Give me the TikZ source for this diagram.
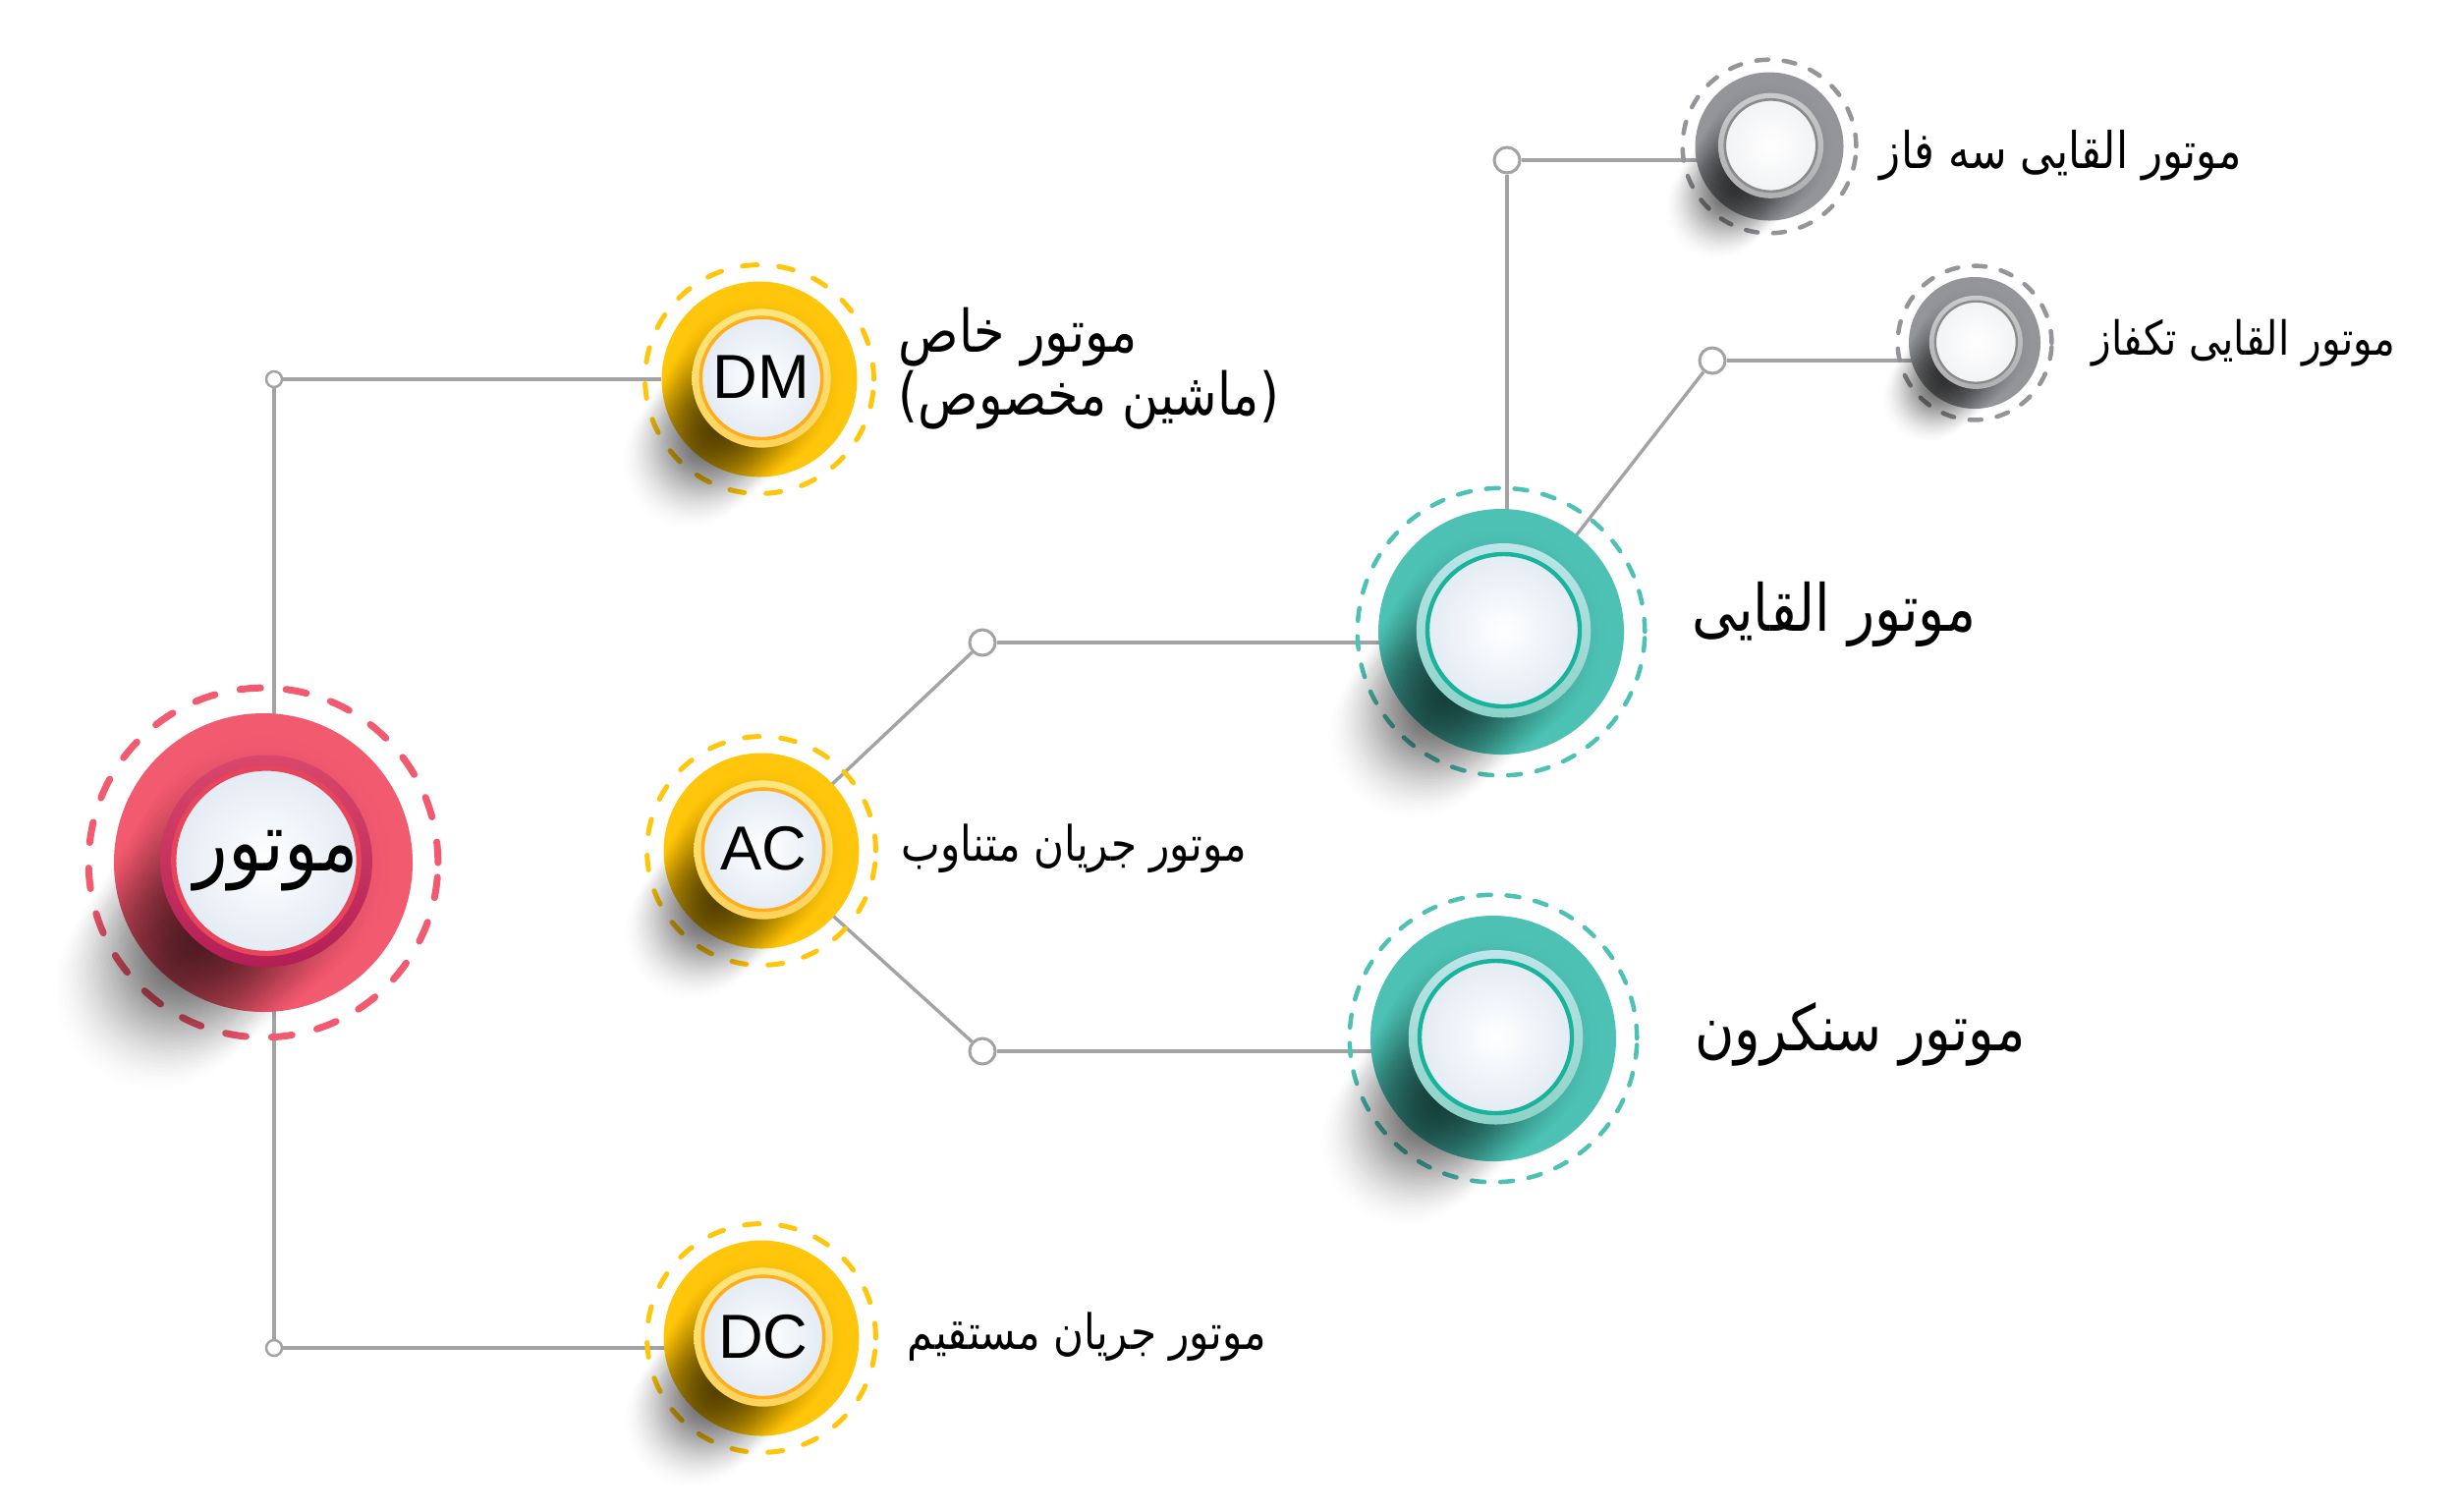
\documentclass[tikz,border=0pt]{standalone}
\usepackage{fontspec}
\setmainfont{Liberation Sans}
\newfontfamily\arabicfont[Script=Arabic,FakeStretch=0.85]{DejaVu Sans}
\TeXXeTstate=1
\usetikzlibrary{positioning, backgrounds, fadings}

\definecolor{reddisc}{HTML}{F25A70}
\definecolor{redtop}{HTML}{D9476B}
\definecolor{redbot}{HTML}{B31F55}
\definecolor{redline}{HTML}{E8455A}
\definecolor{redface}{HTML}{E4EBF4}
\definecolor{yellowdisc}{HTML}{FFC60B}
\definecolor{yellowtop}{HTML}{FFE680}
\definecolor{yellowbot}{HTML}{FFD35C}
\definecolor{yellowline}{HTML}{FFAD1A}
\definecolor{yellowface}{HTML}{E4EBF4}
\definecolor{tealdisc}{HTML}{4DC2B4}
\definecolor{tealtop}{HTML}{BDE5EA}
\definecolor{tealbot}{HTML}{8DD2C8}
\definecolor{tealline}{HTML}{19B39B}
\definecolor{tealface}{HTML}{E4EBF4}
\definecolor{graydisc}{HTML}{939598}
\definecolor{graytop}{HTML}{CACACC}
\definecolor{graybot}{HTML}{B0B0B2}
\definecolor{grayline}{HTML}{8A8A8A}
\definecolor{grayface}{HTML}{F2F3F5}
\definecolor{wirecol}{HTML}{A3A3A5}

\tikzfading[name=softspot,inner color=transparent!0,middle color=transparent!10,outer color=transparent!100]

\tikzstyle{wire} = [draw=wirecol,line width=0.034cm]
\tikzstyle{junction} = [circle,draw=wirecol,fill=white,line width=0.025cm,minimum size=0.16cm,inner sep=0pt]
\tikzstyle{bigjunction} = [junction,line width=0.03cm,minimum size=0.26cm]
\tikzstyle{reddash} = [draw=reddisc,line width=0.07cm,line cap=round,dash pattern=on 0.21cm off 0.26cm]
\tikzstyle{yellowdash} = [draw=yellowdisc,line width=0.05cm,line cap=round,dash pattern=on 0.15cm off 0.22cm]
\tikzstyle{tealdash} = [draw=tealdisc,line width=0.045cm,line cap=round,dash pattern=on 0.13cm off 0.16cm]
\tikzstyle{graydash} = [draw=graydisc,line width=0.045cm,line cap=round,dash pattern=on 0.12cm off 0.16cm]
\tikzstyle{hugetext} = [inner sep=0pt,font=\arabicfont\fontsize{24}{28}\selectfont]
\tikzstyle{bigtext} = [inner sep=0pt,font=\arabicfont\fontsize{18.8}{22}\selectfont]
\tikzstyle{synctext} = [inner sep=0pt,font=\arabicfont\fontsize{18.4}{22}\selectfont]
\tikzstyle{dmtext} = [inner sep=0pt,font=\arabicfont\fontsize{17}{16.8}\selectfont]
\tikzstyle{midtext} = [inner sep=0pt,font=\arabicfont\fontsize{14.1}{18}\selectfont]
\tikzstyle{threetext} = [inner sep=0pt,font=\arabicfont\fontsize{14.6}{18}\selectfont]
\tikzstyle{smalltext} = [inner sep=0pt,font=\arabicfont\fontsize{13.6}{16}\selectfont]
\tikzstyle{latintext} = [inner sep=0pt,font=\fontsize{18}{20}\selectfont]

\newcommand{\farsi}[1]{\beginR #1\endR}
% name, x, y, disc radius, colour, text style, text
\newcommand{\motorball}[7]{
        \node (#1-dash) at (#2,#3) [#5dash,circle,inner sep=0pt,minimum size=2.34*#4*0.01cm] {};
        \node (#1) at (#2,#3) [circle,fill=#5disc,inner sep=0pt,minimum size=2*#4*0.01cm] {};
        \foreach \s in {0,...,14} {
            \fill[black,opacity=0.11,path fading=softspot] ({#2-\s*0.052*#4},{#3+\s*0.06*#4}) circle ({(0.86-0.012*\s)*#4});
        }
        \node (#1-ring) at ({#2+0.02*#4},{#3-0.01*#4}) [circle,top color=#5top,bottom color=#5bot,inner sep=0pt,minimum size=1.42*#4*0.01cm] {};
        \node (#1-face) at ({#2+0.02*#4},{#3-0.012*#4}) [circle,draw=#5line,line width=0.035*#4*0.01cm,inner color=white,outer color=#5face,inner sep=0pt,minimum size=1.24*#4*0.01cm] {};
        \node (#1-label) at (#1-face) [#6] {#7};
}

\begin{document}
\begin{tikzpicture}[x=0.01cm,y=-0.01cm]
        \useasboundingbox (0,0) rectangle (2501,1538);

        \motorball{motor}{268}{878}{152}{red}{hugetext}{\hspace*{0.2cm}\farsi{موتور}}
        \motorball{dm}{773}{386}{99.5}{yellow}{latintext}{\raisebox{0.03cm}{DM}}
        \motorball{ac}{775}{866}{99.5}{yellow}{latintext}{\raisebox{0.03cm}{AC}}
        \motorball{dc}{775}{1362}{99.5}{yellow}{latintext}{DC}
        \motorball{induction}{1528}{643}{125}{teal}{}{}
        \motorball{sync}{1520}{1057}{125}{teal}{}{}
        \motorball{threephase}{1801}{149}{75.5}{gray}{}{}
        \motorball{onephase}{2010}{349}{67}{gray}{}{}

        \node (jdm) at (279,386) [junction] {};
        \node (jdc) at (279,1372) [junction] {};
        \node (jind) at (1000,654) [bigjunction] {};
        \node (jsync) at (1000,1070) [bigjunction] {};
        \node (jthree) at (1534,163) [bigjunction] {};
        \node (jone) at (1743,367) [bigjunction] {};

        \node (dmtext) [dmtext,align=left,right=0.41cm of dm,yshift=0.11cm] {\farsi{موتور خاص}\\\farsi{(ماشین مخصوص)}};
        \node (actext) [midtext,right=0.42cm of ac,yshift=0.02cm] {\farsi{موتور جریان متناوب}};
        \node (dctext) [midtext,right=0.48cm of dc,yshift=0.01cm] {\farsi{موتور جریان مستقیم}};
        \node (indtext) [bigtext,right=0.68cm of induction,yshift=0.18cm] {\farsi{موتور القایی}};
        \node (synctext) [synctext,right=0.79cm of sync,yshift=0.04cm] {\farsi{موتور سنکرون}};
        \node (threetext) [threetext,right=0.36cm of threephase,yshift=-0.09cm] {\farsi{موتور القایی سه فاز}};
        \node (onetext) [smalltext,right=0.51cm of onephase,yshift=0cm] {\farsi{موتور القایی تکفاز}};

        \begin{scope}[on background layer]
            \draw[wire] (jdm) -- (jdc);
            \draw[wire] (jdm) -- (dm);
            \draw[wire] (jdc) -- (jdc -| dc.center);
            \draw[wire] (ac.center) -- (jind);
            \draw[wire] (ac.center) -- (jsync);
            \draw[wire] (jind) -- (jind -| induction.center);
            \draw[wire] (jsync) -- (jsync -| sync.center);
            \draw[wire] (jthree) -- (jthree |- induction.center);
            \draw[wire] (jthree) -- (jthree -| threephase.center);
            \draw[wire] (induction.center) -- (jone);
            \draw[wire] (jone) -- (jone -| onephase.center);
        \end{scope}
\end{tikzpicture}
\end{document}
